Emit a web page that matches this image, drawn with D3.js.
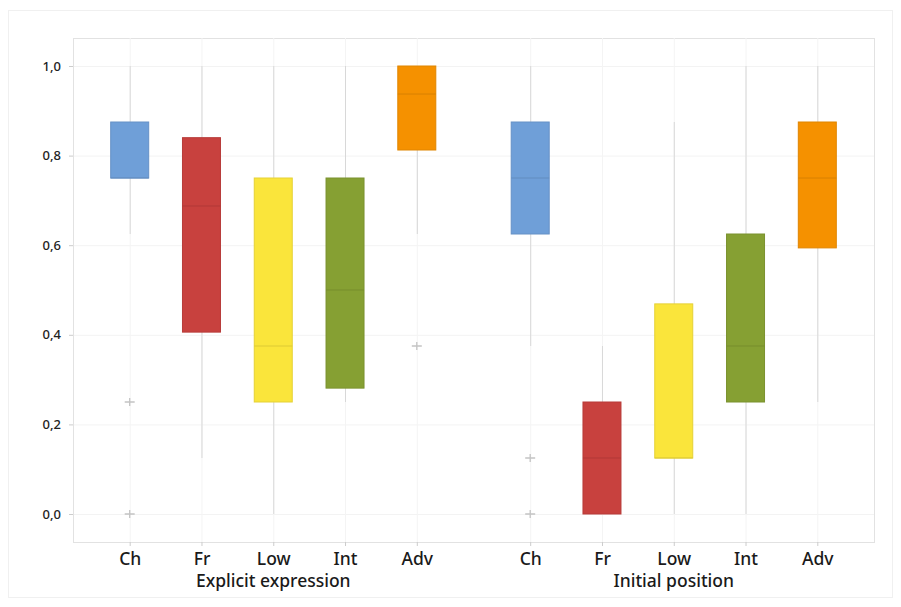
<!DOCTYPE html>
<html>
<head>
<meta charset="utf-8">
<script src="https://cdn.jsdelivr.net/npm/d3@7.9.0/dist/d3.min.js"></script>
<style>
  body { margin: 0; background: #fff; }
  svg { display: block; font-family: "Noto Sans", "Open Sans", sans-serif; }
</style>
</head>
<body>
<div id="chart"></div>
<script>
// ---------- data ----------
const groups = ['Explicit expression', 'Initial position'];
const categories = ['Ch', 'Fr', 'Low', 'Int', 'Adv'];
const colors = ['#6f9fd8', '#c8413e', '#fae53b', '#86a033', '#f59100'];

// per group, in category order
const q1      = [[0.75, 0.406, 0.25, 0.281, 0.8125], [0.625, 0.0, 0.125, 0.25, 0.594]];
const median  = [[0.75, 0.6875, 0.375, 0.5, 0.9375], [0.75, 0.125, 0.125, 0.375, 0.75]];
const q3      = [[0.875, 0.84, 0.75, 0.75, 1.0], [0.875, 0.25, 0.469, 0.625, 0.875]];
const whiskLo = [[0.625, 0.125, 0.0, 0.25, 0.625], [0.375, 0.0, 0.0, 0.0, 0.25]];
const whiskHi = [[1.0, 1.0, 1.0, 1.0, 1.0], [1.0, 0.375, 0.875, 1.0, 1.0]];
const outliers = [[[0.25, 0.0], [], [], [], [0.375]], [[0.125, 0.0], [], [], [], []]];

const yTicks = [0, 0.2, 0.4, 0.6, 0.8, 1.0];

// ---------- layout ----------
const width = 901, height = 607;
const margin = { top: 38, right: 27, bottom: 65, left: 73 };
const boxW = 38;

const svg = d3.select('#chart').append('svg')
  .attr('width', width)
  .attr('height', height);

// outer frame
svg.append('rect')
  .attr('x', 8.5).attr('y', 10.5)
  .attr('width', width - 17).attr('height', height - 20)
  .attr('fill', 'none').attr('stroke', '#f0f0f0');

const xGroup = d3.scaleBand()
  .domain(groups)
  .range([margin.left, width - margin.right]);

const xCat = d3.scalePoint()
  .domain(categories)
  .range([0, xGroup.bandwidth()])
  .padding(0.79);

const y = d3.scaleLinear()
  .domain([-0.0625, 1.0625])
  .range([height - margin.bottom, margin.top]);

const commaFmt = d3.formatLocale({ decimal: ',', thousands: '.', grouping: [3], currency: ['', ''] }).format('.1f');

// horizontal gridlines
svg.append('g')
  .selectAll('line')
  .data(yTicks)
  .join('line')
  .attr('x1', margin.left).attr('x2', width - margin.right)
  .attr('y1', d => y(d) + 0.5).attr('y2', d => y(d) + 0.5)
  .attr('stroke', '#f3f3f3');

// y axis
const yAxis = svg.append('g')
  .attr('transform', `translate(${margin.left},0)`)
  .call(d3.axisLeft(y).tickValues(yTicks).tickFormat(commaFmt).tickSize(4).tickPadding(8))
  .attr('font-family', null);
yAxis.select('.domain').remove();
yAxis.selectAll('.tick line').attr('stroke', '#ccc');
yAxis.selectAll('.tick text')
  .attr('font-size', 13).attr('font-weight', 500).attr('fill', '#222');

// plot frame
svg.append('rect')
  .attr('x', margin.left + 0.5).attr('y', margin.top + 0.5)
  .attr('width', width - margin.left - margin.right)
  .attr('height', height - margin.top - margin.bottom)
  .attr('fill', 'none').attr('stroke', '#e2e2e2');

// ---------- boxes ----------
groups.forEach((g, gi) => {
  const gx = xGroup(g);
  const gEl = svg.append('g').attr('transform', `translate(${gx},0)`);

  // faint vertical gridlines at each category
  gEl.append('g')
    .selectAll('line')
    .data(categories)
    .join('line')
    .attr('x1', d => xCat(d) + 0.5).attr('x2', d => xCat(d) + 0.5)
    .attr('y1', margin.top).attr('y2', height - margin.bottom)
    .attr('stroke', '#f4f4f4');

  // x axis labels + ticks for this group
  const xAxis = gEl.append('g')
    .attr('transform', `translate(0,${height - margin.bottom})`)
    .call(d3.axisBottom(xCat).tickSize(4).tickPadding(7))
    .attr('font-family', null);
  xAxis.select('.domain').remove();
  xAxis.selectAll('.tick line').attr('stroke', '#ccc');
  xAxis.selectAll('.tick text').attr('font-size', 17.5).attr('font-weight', 500).attr('fill', '#1a1a1a');

  gEl.append('text')
    .attr('x', xGroup.bandwidth() / 2)
    .attr('y', height - margin.bottom + 45)
    .attr('text-anchor', 'middle')
    .attr('font-size', 17.5)
    .attr('font-weight', 500)
    .attr('fill', '#1a1a1a')
    .text(g);

  const rows = categories.map((c, i) => ({
    cat: c, color: colors[i],
    q1: q1[gi][i], med: median[gi][i], q3: q3[gi][i],
    lo: whiskLo[gi][i], hi: whiskHi[gi][i], out: outliers[gi][i]
  }));

  const box = gEl.selectAll('g.box')
    .data(rows)
    .join('g')
    .attr('class', 'box')
    .attr('transform', d => `translate(${xCat(d.cat)},0)`);

  box.append('line')
    .attr('x1', 0.5).attr('x2', 0.5)
    .attr('y1', d => y(d.hi)).attr('y2', d => y(d.lo))
    .attr('stroke', '#d8d8d8');

  box.append('rect')
    .attr('x', -boxW / 2)
    .attr('width', boxW)
    .attr('y', d => y(d.q3))
    .attr('height', d => y(d.q1) - y(d.q3))
    .attr('fill', d => d.color)
    .attr('stroke', d => d3.color(d.color).darker(0.25))
    .attr('stroke-width', 1);

  box.append('line')
    .attr('x1', -boxW / 2).attr('x2', boxW / 2)
    .attr('y1', d => y(d.med)).attr('y2', d => y(d.med))
    .attr('stroke', d => d3.color(d.color).darker(0.35))
    .attr('stroke-width', 1);

  box.selectAll('path.out')
    .data(d => d.out)
    .join('path')
    .attr('class', 'out')
    .attr('d', v => `M-5,${y(v)}h10M0,${y(v) - 4}v8`)
    .attr('stroke', '#c4c4c4')
    .attr('stroke-width', 1.3);
});
</script>
</body>
</html>
